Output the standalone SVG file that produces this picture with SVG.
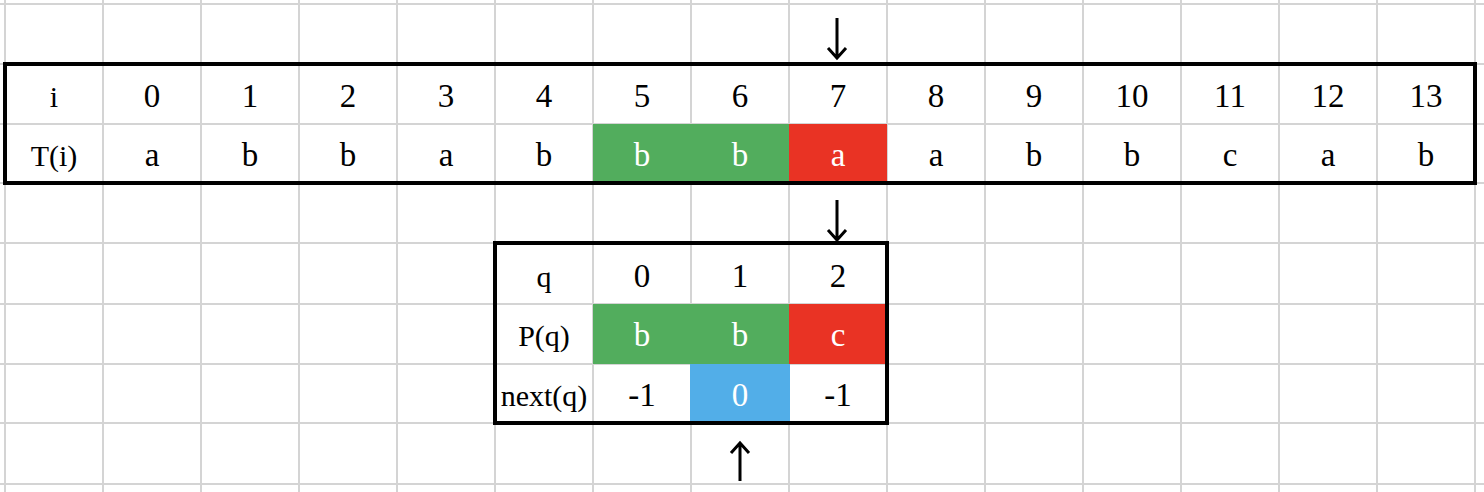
<svg xmlns="http://www.w3.org/2000/svg" width="1484" height="492" viewBox="0 0 1484 492">
<style>
.grid{stroke:#d4d4d4;stroke-width:2;fill:none}
.box{stroke:#000;stroke-width:4;fill:none}
.t{font-family:"Liberation Serif","Times New Roman",serif;font-size:33px;text-anchor:middle;fill:#000}
.lb{font-size:30px}
.w{fill:#fff}
.arr{stroke:#000;stroke-width:3;fill:none}
</style>
<rect width="1484" height="492" fill="#fff"/>
<g id="grid" class="grid">
<path d="M5 0V492M103 0V492M201 0V492M299 0V492M397 0V492M495 0V492M593 0V492M691 0V492M789 0V492M887 0V492M985 0V492M1083 0V492M1181 0V492M1279 0V492M1377 0V492M1475 0V492"/>
<path d="M0 4H1484M0 64H1484M0 124H1484M0 183H1484M0 243H1484M0 304H1484M0 364H1484M0 423H1484M0 484H1484"/>
</g>
<g id="text-table">
<rect x="593" y="124" width="196" height="59" fill="#52ad5d"/>
<rect x="789" y="124" width="98" height="59" fill="#e93324"/>
<rect class="box" x="5" y="64" width="1470" height="119"/>
<text class="t lb" x="54" y="107">i</text>
<text class="t lb" x="54" y="166">T(i)</text>
<g class="row-i">
<text class="t" x="152" y="107">0</text>
<text class="t" x="250" y="107">1</text>
<text class="t" x="348" y="107">2</text>
<text class="t" x="446" y="107">3</text>
<text class="t" x="544" y="107">4</text>
<text class="t" x="642" y="107">5</text>
<text class="t" x="740" y="107">6</text>
<text class="t" x="838" y="107">7</text>
<text class="t" x="936" y="107">8</text>
<text class="t" x="1034" y="107">9</text>
<text class="t" x="1132" y="107">10</text>
<text class="t" x="1230" y="107">11</text>
<text class="t" x="1328" y="107">12</text>
<text class="t" x="1426" y="107">13</text>
</g>
<g class="row-t">
<text class="t" x="152" y="166">a</text>
<text class="t" x="250" y="166">b</text>
<text class="t" x="348" y="166">b</text>
<text class="t" x="446" y="166">a</text>
<text class="t" x="544" y="166">b</text>
<text class="t w" x="642" y="166">b</text>
<text class="t w" x="740" y="166">b</text>
<text class="t w" x="838" y="166">a</text>
<text class="t" x="936" y="166">a</text>
<text class="t" x="1034" y="166">b</text>
<text class="t" x="1132" y="166">b</text>
<text class="t" x="1230" y="166">c</text>
<text class="t" x="1328" y="166">a</text>
<text class="t" x="1426" y="166">b</text>
</g>
</g>
<g id="pattern-table">
<rect x="593" y="304" width="196" height="60" fill="#52ad5d"/>
<rect x="789" y="304" width="98" height="60" fill="#e93324"/>
<rect x="690" y="364" width="100" height="59" fill="#52aee8"/>
<rect class="box" x="495" y="243" width="392" height="180"/>
<text class="t lb" x="544" y="287">q</text>
<text class="t lb" x="544" y="346">P(q)</text>
<text class="t lb" x="544" y="406">next(q)</text>
<text class="t" x="642" y="287">0</text>
<text class="t" x="740" y="287">1</text>
<text class="t" x="838" y="287">2</text>
<text class="t w" x="642" y="346">b</text>
<text class="t w" x="740" y="346">b</text>
<text class="t w" x="838" y="346">c</text>
<text class="t" x="642" y="406">-1</text>
<text class="t w" x="740" y="406">0</text>
<text class="t" x="838" y="406">-1</text>
</g>
<g id="connectors" class="arr">
<path d="M837 18V58M828 48L837 58L846 48"/>
<path d="M837 200V240M828 230L837 240L846 230"/>
<path d="M740 481V443M731 453L740 443L749 453"/>
</g>
</svg>
